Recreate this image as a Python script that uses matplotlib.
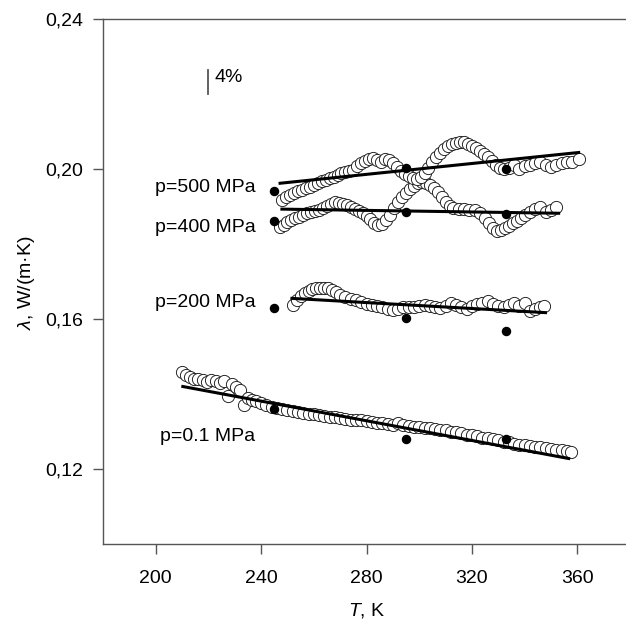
import matplotlib
matplotlib.use('Agg')
import matplotlib.pyplot as plt

plt.rcParams['font.family'] = ['Liberation Sans', 'DejaVu Sans']
plt.rcParams['mathtext.fontset'] = 'custom'
plt.rcParams['mathtext.rm'] = 'Liberation Sans'
plt.rcParams['mathtext.it'] = 'Liberation Sans:italic'

# ---------------- podatki (odčitani s slike) ----------------
# p = 0.1 MPa, odprti krogci
T_01 = [210, 211.5, 213, 214.5, 216, 218, 219.5, 221, 223, 224.5, 226, 227.5, 229,
        230.5, 232, 233.5, 235, 236.5, 238, 240, 242, 244, 246, 248, 250, 252, 254,
        256, 258, 260, 262, 264, 266, 268, 270, 272, 274, 276, 278, 280, 282, 284,
        286, 288, 290, 292, 294, 296, 298, 300, 302, 304, 306, 308, 310, 312, 314,
        316, 318, 320, 322, 324, 326, 328, 330, 332, 334, 336, 338, 340, 342, 344,
        346, 348, 350, 352, 354, 356, 357.5]
lam_01 = [0.1459, 0.1452, 0.1446, 0.1441, 0.1440, 0.1437, 0.1431, 0.1438, 0.1435,
          0.1430, 0.1434, 0.1396, 0.1427, 0.1420, 0.1412, 0.1372, 0.1390, 0.1385,
          0.1381, 0.1376, 0.1372, 0.1366, 0.1362, 0.1360, 0.1357, 0.1355, 0.1352,
          0.1350, 0.1348, 0.1346, 0.1344, 0.1342, 0.1340, 0.1338, 0.1336, 0.1334,
          0.1332, 0.1330, 0.1331, 0.1329, 0.1326, 0.1324, 0.1322, 0.1320, 0.1318,
          0.1322, 0.1317, 0.1314, 0.1312, 0.1311, 0.1309, 0.1310, 0.1306, 0.1305,
          0.1303, 0.1300, 0.1298, 0.1295, 0.1292, 0.1290, 0.1287, 0.1284, 0.1282,
          0.1280, 0.1278, 0.1273, 0.1271, 0.1268, 0.1265, 0.1263, 0.1261, 0.1260,
          0.1258, 0.1256, 0.1254, 0.1251, 0.1250, 0.1248, 0.1246]

# p = 200 MPa
T_200 = [252, 253.5, 255, 256.5, 258, 259.5, 261, 262.5, 264, 265.5, 267, 268.5,
         270, 272, 274, 276, 278, 280, 282, 284, 286, 288, 290, 292, 294, 296, 298,
         300, 302, 304, 306, 308, 310, 312, 314, 316, 318, 320, 322, 324, 326, 328,
         330, 332, 334, 336, 338, 340, 342, 344, 346, 347.5]
lam_200 = [0.1638, 0.1652, 0.1662, 0.1670, 0.1675, 0.1679, 0.1682, 0.1683, 0.1683,
           0.1682, 0.1678, 0.1672, 0.1665, 0.1658, 0.1653, 0.1650, 0.1645, 0.1641,
           0.1638, 0.1634, 0.1631, 0.1628, 0.1625, 0.1627, 0.1631, 0.1633, 0.1632,
           0.1636, 0.1638, 0.1634, 0.1631, 0.1630, 0.1636, 0.1642, 0.1638, 0.1631,
           0.1628, 0.1635, 0.1639, 0.1644, 0.1647, 0.1640, 0.1634, 0.1632, 0.1637,
           0.1642, 0.1636, 0.1644, 0.1621, 0.1628, 0.1632, 0.1634]

# p = 400 MPa
T_400 = [247, 248.5, 250, 251.5, 253, 254.5, 256, 257.5, 259, 260.5, 262, 263.5,
         265, 266.5, 268, 269.5, 271, 272.5, 274, 275.5, 277, 278.5, 280, 281.5,
         283, 284.5, 286, 287.5, 289, 290.5, 292, 293.5, 295, 296.5, 298, 299.5,
         301, 302.5, 304, 305.5, 307, 308.5, 310, 311.5, 313, 315, 317, 319, 321,
         323, 325, 326.5, 328, 329.5, 331, 332.5, 334, 335.5, 337, 338.5, 340, 342,
         344, 346, 348, 350, 352]
lam_400 = [0.1846, 0.1852, 0.1858, 0.1864, 0.1869, 0.1873, 0.1878, 0.1884, 0.1885,
           0.1889, 0.1892, 0.1895, 0.1902, 0.1908, 0.1912, 0.1910, 0.1906, 0.1903,
           0.1899, 0.1893, 0.1889, 0.1884, 0.1876, 0.1866, 0.1856, 0.1850, 0.1853,
           0.1863, 0.1878, 0.1895, 0.1912, 0.1926, 0.1936, 0.1946, 0.1955, 0.1962,
           0.1966, 0.1963, 0.1957, 0.1950, 0.1940, 0.1926, 0.1912, 0.1902, 0.1897,
           0.1894, 0.1893, 0.1892, 0.1890, 0.1884, 0.1870, 0.1855, 0.1843, 0.1836,
           0.1838, 0.1844, 0.1848, 0.1855, 0.1862, 0.1870, 0.1878, 0.1886, 0.1893,
           0.1898, 0.1886, 0.1890, 0.1898]

# p = 500 MPa
T_500 = [248, 249.5, 251, 252.5, 254, 255.5, 257, 258.5, 260, 261.5, 263, 264.5,
         266, 267.5, 269, 270.5, 272, 273.5, 275, 276.5, 278, 279.5, 281, 282.5,
         284, 285.5, 287, 288.5, 290, 291.5, 293, 294.5, 296, 297.5, 299, 300.5,
         302, 303.5, 305, 306.5, 308, 309.5, 311, 312.5, 314, 315.5, 317, 318.5,
         320, 321.5, 323, 324.5, 326, 327.5, 329, 330.5, 332, 334, 336, 338, 340,
         342, 344, 346, 348, 350, 352, 354, 356, 358, 360.5]
lam_500 = [0.1917, 0.1925, 0.1932, 0.1937, 0.1941, 0.1945, 0.1949, 0.1953, 0.1958,
           0.1963, 0.1967, 0.1971, 0.1975, 0.1979, 0.1984, 0.1989, 0.1992, 0.1995,
           0.1998, 0.2008, 0.2016, 0.2021, 0.2026, 0.2030, 0.2024, 0.2020, 0.2028,
           0.2024, 0.2016, 0.2005, 0.1995, 0.1988, 0.1982, 0.1975, 0.1973, 0.1978,
           0.1990, 0.2004, 0.2018, 0.2031, 0.2044, 0.2053, 0.2061, 0.2066, 0.2070,
           0.2072, 0.2071, 0.2068, 0.2062, 0.2055, 0.2048, 0.2040, 0.2032, 0.2022,
           0.2012, 0.2004, 0.2001, 0.2003, 0.2010, 0.1999, 0.2008, 0.2012, 0.2016,
           0.2018, 0.2012, 0.2006, 0.2010, 0.2015, 0.2018, 0.2020, 0.2026]

# premice (začetna in končna točka)
fit_T_01, fit_lam_01 = [210.3, 356.7], [0.1420, 0.1228]
fit_T_200, fit_lam_200 = [251.7, 347.9], [0.1655, 0.1617]
fit_T_400, fit_lam_400 = [247.9, 352.9], [0.1893, 0.1882]
fit_T_500, fit_lam_500 = [247.2, 360.5], [0.1962, 0.2044]

# polne točke
T_solid = [245, 295, 333]
solid_01 = [0.1359, 0.1280, 0.1280]
solid_200 = [0.1630, 0.1604, 0.1569]
solid_400 = [0.1862, 0.1885, 0.1880]
solid_500 = [0.1941, 0.2002, 0.2000]

labels = ['p=0.1 MPa', 'p=200 MPa', 'p=400 MPa', 'p=500 MPa']
label_T = [237.8, 237.8, 237.8, 237.8]
label_lam = [0.1287, 0.1643, 0.1843, 0.1952]

# ---------------- risanje ----------------
fig = plt.figure(figsize=(6.26, 6.23), dpi=100)
ax = fig.add_axes([0.1645, 0.1268, 0.842, 0.8427])

series = [(T_01, lam_01), (T_200, lam_200), (T_400, lam_400), (T_500, lam_500)]
for T, lam in series:
    ax.plot(T, lam, 'o', ms=8.8, mfc='white', mec='#1a1a1a', mew=0.65, zorder=2)

fits = [(fit_T_01, fit_lam_01), (fit_T_200, fit_lam_200),
        (fit_T_400, fit_lam_400), (fit_T_500, fit_lam_500)]
for T, lam in fits:
    ax.plot(T, lam, '-', color='black', lw=2.2, zorder=3)

for s in [solid_01, solid_200, solid_400, solid_500]:
    ax.plot(T_solid, s, 'o', ms=5.8, color='black', zorder=4)

for txt, tx, ty in zip(labels, label_T, label_lam):
    ax.text(tx, ty, txt, ha='right', va='center', fontsize=14)

# merilo 4 %
ax.plot([220, 220], [0.2265, 0.2201], color='#555555', lw=1.3)
ax.text(222.5, 0.2243, '4%', ha='left', va='center', fontsize=14)

ax.set_xlim(180, 380)
ax.set_ylim(0.10, 0.24)
ax.set_xticks([200, 240, 280, 320, 360])
ax.set_yticks([0.12, 0.16, 0.20, 0.24])
ax.set_yticklabels(['0,12', '0,16', '0,20', '0,24'])

for side in ['left', 'bottom', 'top']:
    ax.spines[side].set_color('#555555')
    ax.spines[side].set_linewidth(1.0)
ax.spines['right'].set_visible(False)
ax.tick_params(direction='out', length=7.5, width=1.0, color='#555555',
               labelsize=14)
ax.tick_params(axis='x', pad=11)
ax.tick_params(axis='y', pad=7)

ax.set_xlabel('$T$, K', fontsize=14, labelpad=10)
ax.set_ylabel(r'$\lambda$, W/(m·K)', fontsize=14)
ax.yaxis.set_label_coords(-0.125, 0.497)

plt.savefig('out.png', dpi=100)
